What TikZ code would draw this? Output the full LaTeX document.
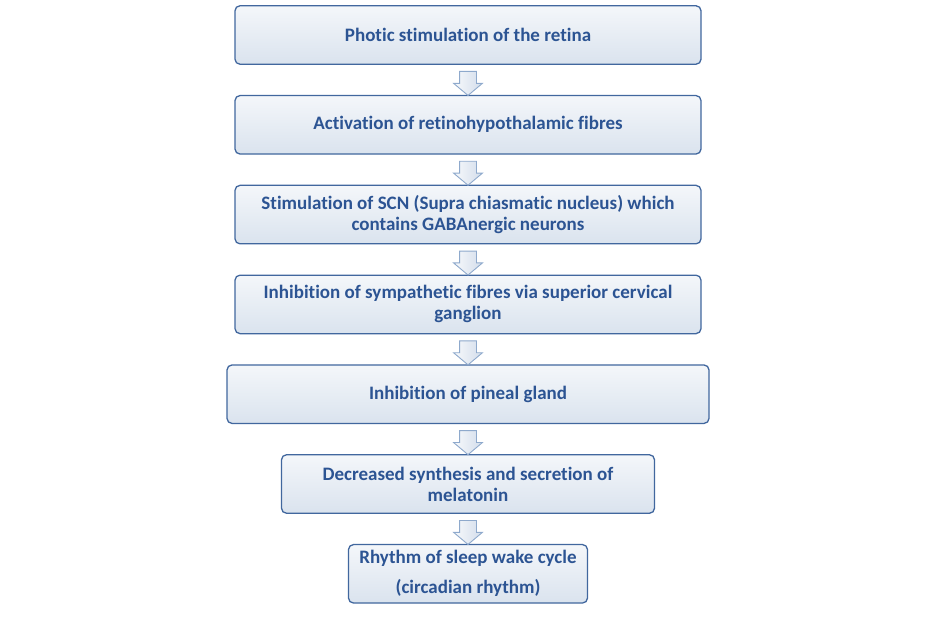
\documentclass[tikz,border=0pt]{standalone}
\usepackage{fontspec}
\setmainfont{Carlito}[Ligatures=NoCommon]
\usepackage{tikz}
\usetikzlibrary{positioning,shapes.arrows,calc}
\definecolor{stepline}{HTML}{41679E}
\definecolor{steptext}{HTML}{2C5493}
\definecolor{stepfill}{HTML}{DAE3EE}
\definecolor{arrowline}{HTML}{8EA9CC}

\begin{document}
\begin{tikzpicture}[
  x=1pt, y=1pt,
  font=\fontsize{19}{21}\selectfont\bfseries,
  stepbox/.style={rounded corners=5pt, draw=stepline, line width=1.3pt,
                  top color=white!70!stepfill, bottom color=stepfill,
                  text=steptext, align=center, minimum height=58.5pt, inner sep=2pt},
  downarrow/.style={single arrow, rotate=-90, draw=arrowline, line width=0.9pt,
                    left color=white!80!stepfill, right color=stepfill!90!arrowline,
                    minimum height=23pt, minimum width=28pt, inner sep=8pt,
                    single arrow head extend=6pt, single arrow tip angle=100},
]
\useasboundingbox (0,0) rectangle (936,-620);
% ----- steps -----
\node[stepbox, minimum width=466pt] (retina) at (468,-35) {Photic stimulation of the retina};
\node[stepbox, minimum width=466pt, below=30pt of retina] (fibres) {Activation of retinohypothalamic fibres};
\node[stepbox, minimum width=466pt, below=30pt of fibres] (scn) {Stimulation of SCN (Supra chiasmatic nucleus) which\\contains GABAnergic neurons};
\node[stepbox, minimum width=466pt, below=30pt of scn] (symp) {Inhibition of sympathetic fibres via superior cervical\\ganglion};
\node[stepbox, minimum width=482pt, below=30pt of symp] (pineal) {Inhibition of pineal gland};
\node[stepbox, minimum width=373pt, below=30pt of pineal] (melat) {Decreased synthesis and secretion of\\melatonin};
\node[stepbox, minimum width=239pt, below=30pt of melat, font=\fontsize{19}{30}\selectfont\bfseries] (rhythm) {Rhythm of sleep wake cycle\\(circadian rhythm)};
% ----- block arrows -----
\node[downarrow] (a1) at ($(retina.south)!.5!(fibres.north)$) {};
\node[downarrow] (a2) at ($(fibres.south)!.5!(scn.north)$) {};
\node[downarrow] (a3) at ($(scn.south)!.5!(symp.north)$) {};
\node[downarrow] (a4) at ($(symp.south)!.5!(pineal.north)$) {};
\node[downarrow] (a5) at ($(pineal.south)!.5!(melat.north)$) {};
\node[downarrow] (a6) at ($(melat.south)!.5!(rhythm.north)$) {};
\end{tikzpicture}
\end{document}
